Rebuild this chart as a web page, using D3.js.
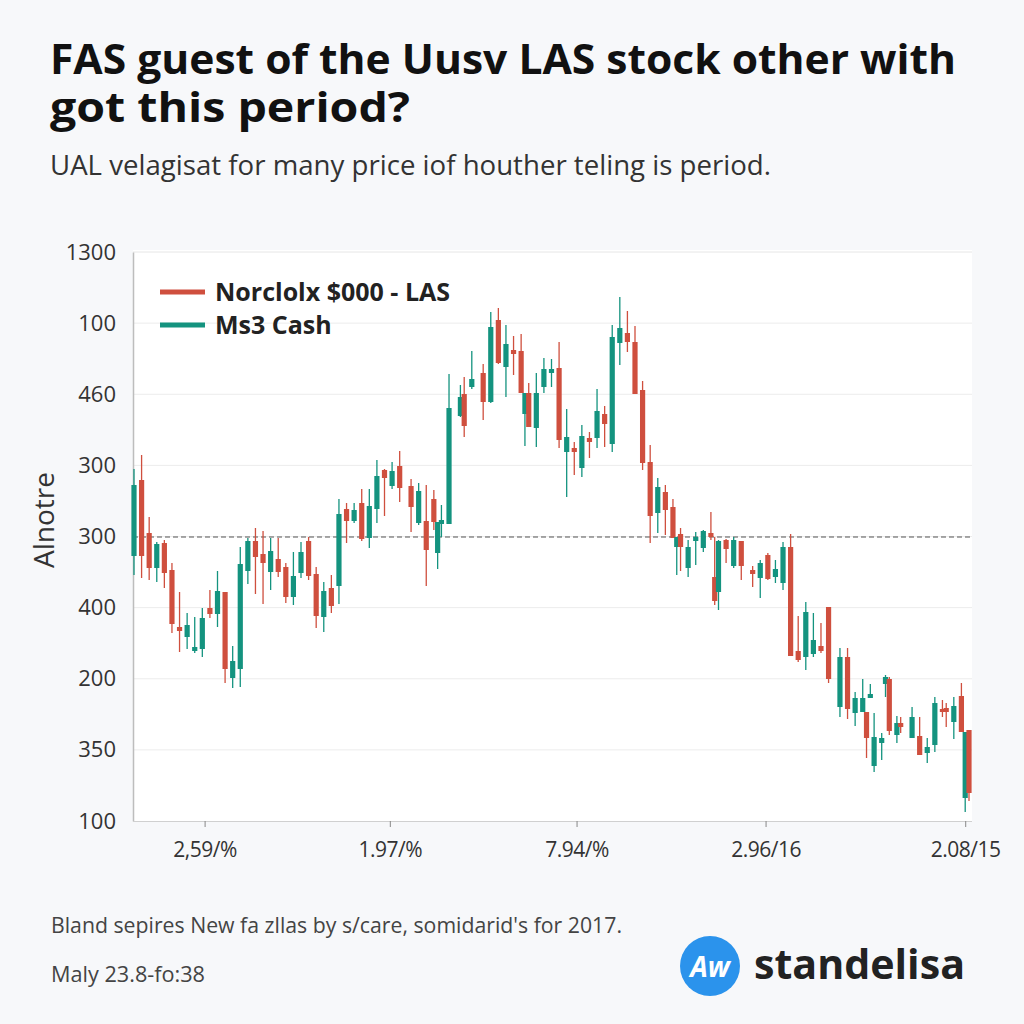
<!DOCTYPE html>
<html><head><meta charset="utf-8">
<script src="https://cdn.jsdelivr.net/npm/d3@7"></script>
<style>body{margin:0;background:#f7f8fa}svg{display:block}</style></head>
<body><svg id="c" width="1024" height="1024"></svg>
<script>
// ---- data ----
const days=[0,1,2,3,4,5,6,7,8,9,10,11,12,13,14,15,16,17,18,19,20,21,22,23,24,25,26,27,28,29,30,31,32,33,34,35,
36.5,37.5,38.5,39.5,40,40.5,41.5,43,43.5,44.5,46,47,48,49,50,51,51.5,52,53,54,55,56,57,58,59,60,61,62,63,64,65,66,67,68,69,70,71,71.5,72,73,74,75,76,76.5,77,78,79,80,81.5,82.5,83.5,84.5,85.5,86.5,87.5,88.5,89.5,90.5,91.5,93,94,95,96,96.5,97,97.5,98.5,99,99.5,100.5,101,102.5,103.5,104.5,105.5,106.5,107,108,109,109.5,110];
const opens=[265,341,288,253,278,251,194,184,170,172,213,207,229,143,152,250,280,267,249,262,254,224,248,280,247,204,233,235,312,300,318,283,312,351,335,355,335,298,300,322,268,297,297,405,427,434,448,419,501,454,471,470,407,428,393,434,448,453,369,373,353,383,383,407,377,478,488,479,431,359,308,329,314,274,287,253,280,273,288,244,229,281,255,280,251,243,266,244,238,274,170,164,167,175,214,114,164,108,109,109,123,55,78,137,142,86,98,83,85,68,76,112,113,99,125,23,91];
const closes=[336,265,253,277,248,197,190,196,174,203,207,230,152,160,257,280,264,258,270,249,224,245,269,245,205,230,215,307,300,311,282,315,345,343,350,333,314,330,271,299,299,301,413,424,395,442,419,494,458,477,467,428,428,394,428,452,452,381,384,369,385,379,410,397,484,493,479,427,358,305,334,311,283,284,274,274,284,290,284,220,280,272,281,255,247,258,242,252,274,165,161,209,181,170,142,164,112,123,123,83,127,84,83,144,90,98,94,104,66,74,118,109,109,115,89,89,28];
const highs=[352,366,304,279,281,258,229,208,204,213,231,250,229,175,274,283,293,290,283,283,258,269,279,284,254,239,246,322,318,318,332,332,361,352,359,370,342,338,336,331,299,316,447,436,444,470,457,509,513,496,485,487,428,438,448,463,462,479,412,379,396,389,432,415,496,524,510,495,440,376,343,336,322,284,293,281,289,291,309,284,281,282,284,280,255,261,268,261,279,287,205,219,208,198,214,173,173,129,142,109,137,108,88,146,144,105,104,114,104,83,124,121,118,124,138,89,91];
const lows=[246,243,241,239,233,188,169,172,168,164,203,194,138,133,134,237,227,217,231,244,218,216,243,241,193,189,208,217,278,298,280,273,298,305,332,319,289,296,235,291,252,284,297,404,384,432,401,418,457,424,446,428,375,394,374,428,434,373,324,346,344,363,373,374,369,456,469,427,351,278,288,286,283,246,250,244,256,269,281,216,211,258,253,241,234,223,241,238,231,165,159,151,164,168,138,104,102,95,109,63,123,49,61,124,86,78,88,83,66,58,69,104,94,82,89,9,20];
const yTickLabels=["100","350","200","400","300","300","460","100","1300"];
const xTickDays=[9.3,33.7,58.3,83.2,109.5];
const xTickLabels=["2,59/%","1.97/%","7.94/%","2.96/16","2.08/15"];
const refLevel=284;
const seriesNames=["Norclolx $000 - LAS","Ms3 Cash"];

// ---- drawing ----
const RED="#cf4f3e", TEAL="#14937f";
const svg=d3.select("#c");
const L=133,R=972,T=250,B=821;
const x=d3.scaleLinear().domain([0,110]).range([134,969]);
const y=d3.scaleLinear().domain([0,569]).range([B,252]);
const yTicks=d3.range(9).map(i=>i*569/8);
const font="'Open Sans', 'Noto Sans', sans-serif";

svg.append("rect").attr("width",1024).attr("height",1024).attr("fill","#f7f8fa");
svg.append("rect").attr("x",L).attr("y",T).attr("width",R-L).attr("height",B-T).attr("fill","#ffffff");

// title
svg.append("text").attr("x",50).attr("y",74).attr("font-family",font).attr("font-weight",700)
  .attr("font-size",42).attr("fill","#111").attr("textLength",906).attr("lengthAdjust","spacingAndGlyphs")
  .text("FAS guest of the Uusv LAS stock other with");
svg.append("text").attr("x",50).attr("y",122).attr("font-family",font).attr("font-weight",700)
  .attr("font-size",42).attr("fill","#111").attr("textLength",360).attr("lengthAdjust","spacingAndGlyphs")
  .text("got this period?");
svg.append("text").attr("x",50).attr("y",175).attr("font-family",font).attr("font-size",27)
  .attr("fill","#333").attr("textLength",721).attr("lengthAdjust","spacingAndGlyphs")
  .text("UAL velagisat for many price iof houther teling is period.");

// grid
svg.append("g").selectAll("line").data(yTicks.slice(1,-1)).join("line")
  .attr("x1",L).attr("x2",R).attr("y1",d=>y(d)).attr("y2",d=>y(d))
  .attr("stroke","#ececec").attr("stroke-width",1);
svg.append("line").attr("x1",L).attr("x2",R).attr("y1",y(569)).attr("y2",y(569)).attr("stroke","#e6e6e6");

// y axis
const ya=svg.append("g").attr("transform",`translate(${L},0)`)
  .call(d3.axisLeft(y).tickValues(yTicks).tickSize(0).tickPadding(17).tickFormat((d,i)=>yTickLabels[i]));
ya.select(".domain").attr("stroke","#bdbdbd").attr("stroke-width",1.5);
ya.selectAll("text").attr("font-family",font).attr("font-size",22).attr("fill","#333");

// x axis
const xa=svg.append("g").attr("transform",`translate(0,${B})`)
  .call(d3.axisBottom(x).tickValues(xTickDays).tickSize(6).tickPadding(15).tickSizeOuter(0).tickFormat((d,i)=>xTickLabels[i]));
xa.select(".domain").attr("stroke","#d0d0d0").attr("d",`M${L},0.5H${R}`);
xa.selectAll(".tick line").attr("stroke","#888");
xa.selectAll("text").attr("font-family",font).attr("font-size",21).attr("fill","#333").attr("letter-spacing","-0.5");

svg.append("text").attr("transform","translate(54,520) rotate(-90)").attr("text-anchor","middle")
  .attr("font-family",font).attr("font-size",28).attr("fill","#333").text("Alnotre");

// reference dashed line
svg.append("line").attr("x1",L).attr("x2",R).attr("y1",y(refLevel)).attr("y2",y(refLevel))
  .attr("stroke","#555").attr("stroke-width",1.2).attr("stroke-dasharray","5,3");

// candles
const data=days.map((d,i)=>({d,o:opens[i],c:closes[i],h:highs[i],l:lows[i]}));
const g=svg.append("g");
g.selectAll("line.w").data(data).join("line").attr("class","w")
  .attr("x1",d=>x(d.d)).attr("x2",d=>x(d.d)).attr("y1",d=>y(d.h)).attr("y2",d=>y(d.l))
  .attr("stroke",d=>d.c>=d.o?TEAL:RED).attr("stroke-width",1.3);
g.selectAll("rect").data(data).join("rect")
  .attr("x",d=>x(d.d)-2.6).attr("width",5.2)
  .attr("y",d=>y(Math.max(d.o,d.c))).attr("height",d=>Math.max(2.5,Math.abs(y(d.o)-y(d.c))))
  .attr("fill",d=>d.c>=d.o?TEAL:RED);

// legend
const lg=svg.append("g");
[RED,TEAL].forEach((col,i)=>{
  lg.append("line").attr("x1",160).attr("x2",205).attr("y1",292+i*33).attr("y2",292+i*33)
    .attr("stroke",col).attr("stroke-width",5);
  lg.append("text").attr("x",215).attr("y",292+i*33).attr("dy","0.35em").attr("font-family",font)
    .attr("font-weight",700).attr("font-size",25).attr("fill","#222").text(seriesNames[i]);
});

// footer
svg.append("text").attr("x",51).attr("y",933).attr("font-family",font).attr("font-size",22)
  .attr("fill","#444").attr("textLength",571).attr("lengthAdjust","spacingAndGlyphs")
  .text("Bland sepires New fa zllas by s/care, somidarid's for 2017.");
svg.append("text").attr("x",51).attr("y",982).attr("font-family",font).attr("font-size",22)
  .attr("fill","#444").attr("textLength",154).attr("lengthAdjust","spacingAndGlyphs").text("Maly 23.8-fo:38");

// logo
svg.append("circle").attr("cx",710).attr("cy",966).attr("r",30).attr("fill","#2b93ec");
svg.append("text").attr("x",710).attr("y",977).attr("text-anchor","middle").attr("font-family",font)
  .attr("font-style","italic").attr("font-weight",700).attr("font-size",28).attr("fill","#fff").text("Aw");
svg.append("text").attr("x",754).attr("y",979).attr("font-family",font).attr("font-weight",700)
  .attr("font-size",41).attr("fill","#222").attr("textLength",211).attr("lengthAdjust","spacingAndGlyphs").text("standelisa");
</script></body></html>
